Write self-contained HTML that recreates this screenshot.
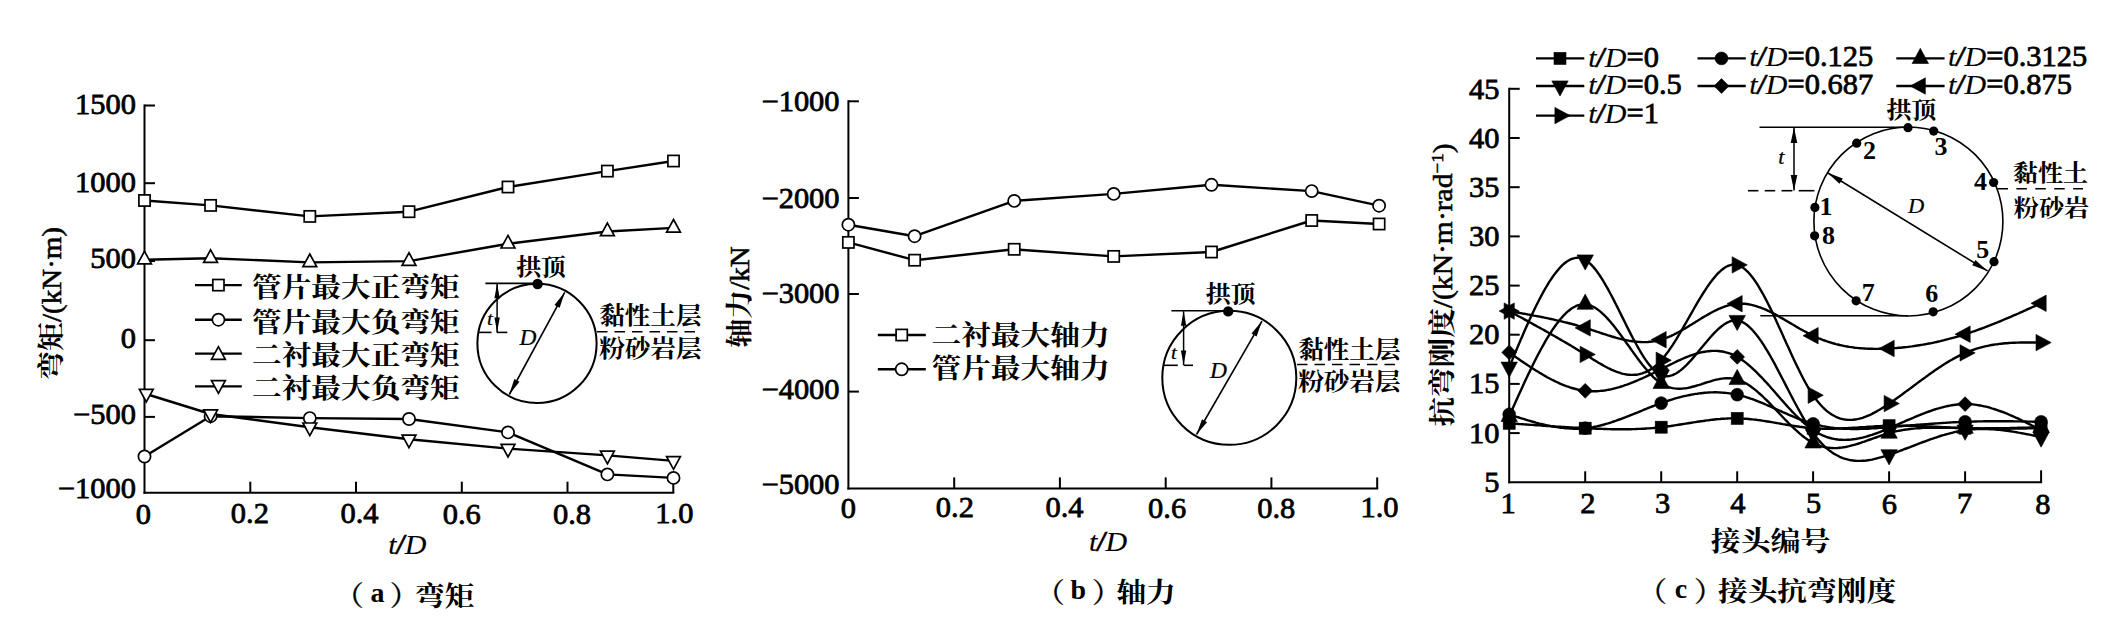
<!DOCTYPE html>
<html><head><meta charset="utf-8"><title>figure</title>
<style>
html,body{margin:0;padding:0;background:#fff;}
svg{display:block;}
text{font-family:"Liberation Serif","Noto Serif CJK SC",serif;fill:#000;}
</style></head><body>
<svg width="2124" height="620" viewBox="0 0 2124 620">
<rect width="2124" height="620" fill="#fff"/>
<line x1="144.5" y1="104.5" x2="144.5" y2="493.7" stroke="#000" stroke-width="2" />
<line x1="143.5" y1="492.7" x2="674.3" y2="492.7" stroke="#000" stroke-width="2" />
<line x1="144.5" y1="105.5" x2="155.0" y2="105.5" stroke="#000" stroke-width="2" />
<text id="a_y0" transform="translate(136.00,114.00) scale(1,0.94)" font-size="30.5" text-anchor="end" stroke="#000" stroke-width="0.8" >1500</text>
<line x1="144.5" y1="183.2" x2="155.0" y2="183.2" stroke="#000" stroke-width="2" />
<text id="a_y1" transform="translate(136.00,191.80) scale(1,0.94)" font-size="30.5" text-anchor="end" stroke="#000" stroke-width="0.8" >1000</text>
<line x1="144.5" y1="261.0" x2="155.0" y2="261.0" stroke="#000" stroke-width="2" />
<text id="a_y2" transform="translate(136.00,267.80) scale(1,0.94)" font-size="30.5" text-anchor="end" stroke="#000" stroke-width="0.8" >500</text>
<line x1="144.5" y1="340.2" x2="155.0" y2="340.2" stroke="#000" stroke-width="2" />
<text id="a_y3" transform="translate(136.00,347.60) scale(1,0.94)" font-size="30.5" text-anchor="end" stroke="#000" stroke-width="0.8" >0</text>
<line x1="144.5" y1="416.9" x2="155.0" y2="416.9" stroke="#000" stroke-width="2" />
<text id="a_y4" transform="translate(136.00,423.80) scale(1,0.94)" font-size="30.5" text-anchor="end" stroke="#000" stroke-width="0.8" >−500</text>
<text id="a_y5" transform="translate(136.00,498.20) scale(1,0.94)" font-size="30.5" text-anchor="end" stroke="#000" stroke-width="0.8" >−1000</text>
<text id="a_x0" transform="translate(143.40,524.40) scale(1,0.94)" font-size="30.5" text-anchor="middle" stroke="#000" stroke-width="0.8" >0</text>
<line x1="250.3" y1="492.7" x2="250.3" y2="481.7" stroke="#000" stroke-width="2" />
<text id="a_x1" transform="translate(249.90,523.40) scale(1,0.94)" font-size="30.5" text-anchor="middle" stroke="#000" stroke-width="0.8" >0.2</text>
<line x1="356.0" y1="492.7" x2="356.0" y2="481.7" stroke="#000" stroke-width="2" />
<text id="a_x2" transform="translate(359.50,523.40) scale(1,0.94)" font-size="30.5" text-anchor="middle" stroke="#000" stroke-width="0.8" >0.4</text>
<line x1="461.8" y1="492.7" x2="461.8" y2="481.7" stroke="#000" stroke-width="2" />
<text id="a_x3" transform="translate(461.80,524.40) scale(1,0.94)" font-size="30.5" text-anchor="middle" stroke="#000" stroke-width="0.8" >0.6</text>
<line x1="567.5" y1="492.7" x2="567.5" y2="481.7" stroke="#000" stroke-width="2" />
<text id="a_x4" transform="translate(572.00,524.40) scale(1,0.94)" font-size="30.5" text-anchor="middle" stroke="#000" stroke-width="0.8" >0.8</text>
<line x1="673.3" y1="492.7" x2="673.3" y2="481.7" stroke="#000" stroke-width="2" />
<text id="a_x5" transform="translate(674.40,523.40) scale(1,0.94)" font-size="30.5" text-anchor="middle" stroke="#000" stroke-width="0.8" >1.0</text>
<text id="a_xl" transform="translate(388.20,554.20) scale(1,0.94)" font-size="30" font-style="italic" stroke="#000" stroke-width="0.15">t<tspan font-family="Liberation Sans,sans-serif" font-size="27.9" stroke-width="0.5">/</tspan><tspan dx="0.5">D</tspan></text>
<text id="a_cap_lp" transform="translate(334.20,605.40) scale(1,0.94)" font-size="29.5" text-anchor="start" font-weight="500" stroke="#000" stroke-width="0.3" >（</text>
<text id="a_cap_lt" transform="translate(370.60,602.40) scale(1,0.94)" font-size="28" text-anchor="start" font-weight="bold" >a</text>
<text id="a_cap_rp" transform="translate(389.80,605.40) scale(1,0.94)" font-size="29.5" text-anchor="start" font-weight="500" stroke="#000" stroke-width="0.3" >）</text>
<text id="a_cap_cj" transform="translate(415.00,606.40) scale(1,0.92)" font-size="29.7" text-anchor="start" font-weight="700" >弯矩</text>
<text id="a_yl" transform="translate(60.5,303.5) rotate(-90) scale(1,0.93)" font-size="29" text-anchor="middle" stroke="#000" stroke-width="0.6"><tspan font-weight="700" stroke-width="0">弯矩</tspan>/(kN·m)</text>
<polyline points="144.5,200.5 210.6,205.4 309.8,216.4 409.0,211.7 508.0,187.0 607.4,171.1 673.5,161.0" fill="none" stroke="#000" stroke-width="2.4" stroke-linejoin="round"/>
<polyline points="144.5,259.7 210.6,258.2 309.8,262.4 409.0,261.1 508.0,243.8 607.4,231.5 673.5,227.9" fill="none" stroke="#000" stroke-width="2.4" stroke-linejoin="round"/>
<polyline points="144.5,456.5 210.6,416.2 309.8,418.1 409.0,419.0 508.0,432.4 607.4,474.4 673.5,477.9" fill="none" stroke="#000" stroke-width="2.4" stroke-linejoin="round"/>
<polyline points="144.5,393.5 210.6,414.0 309.8,427.2 409.0,439.3 508.0,448.6 607.4,455.4 673.5,460.9" fill="none" stroke="#000" stroke-width="2.4" stroke-linejoin="round"/>
<rect x="138.9" y="194.9" width="11.2" height="11.2" fill="#fff" stroke="#000" stroke-width="1.7"/>
<rect x="205.0" y="199.8" width="11.2" height="11.2" fill="#fff" stroke="#000" stroke-width="1.7"/>
<rect x="304.2" y="210.8" width="11.2" height="11.2" fill="#fff" stroke="#000" stroke-width="1.7"/>
<rect x="403.4" y="206.1" width="11.2" height="11.2" fill="#fff" stroke="#000" stroke-width="1.7"/>
<rect x="502.4" y="181.4" width="11.2" height="11.2" fill="#fff" stroke="#000" stroke-width="1.7"/>
<rect x="601.8" y="165.5" width="11.2" height="11.2" fill="#fff" stroke="#000" stroke-width="1.7"/>
<rect x="667.9" y="155.4" width="11.2" height="11.2" fill="#fff" stroke="#000" stroke-width="1.7"/>
<polygon points="144.5,251.3 151.4,263.9 137.6,263.9" fill="#fff" stroke="#000" stroke-width="1.7"/>
<polygon points="210.6,249.8 217.5,262.4 203.7,262.4" fill="#fff" stroke="#000" stroke-width="1.7"/>
<polygon points="309.8,254.0 316.7,266.6 302.9,266.6" fill="#fff" stroke="#000" stroke-width="1.7"/>
<polygon points="409.0,252.7 415.9,265.3 402.1,265.3" fill="#fff" stroke="#000" stroke-width="1.7"/>
<polygon points="508.0,235.4 514.9,248.0 501.1,248.0" fill="#fff" stroke="#000" stroke-width="1.7"/>
<polygon points="607.4,223.1 614.3,235.7 600.5,235.7" fill="#fff" stroke="#000" stroke-width="1.7"/>
<polygon points="673.5,219.5 680.4,232.1 666.6,232.1" fill="#fff" stroke="#000" stroke-width="1.7"/>
<circle cx="144.5" cy="456.5" r="6.1" fill="#fff" stroke="#000" stroke-width="1.7"/>
<circle cx="210.6" cy="416.2" r="6.1" fill="#fff" stroke="#000" stroke-width="1.7"/>
<circle cx="309.8" cy="418.1" r="6.1" fill="#fff" stroke="#000" stroke-width="1.7"/>
<circle cx="409.0" cy="419.0" r="6.1" fill="#fff" stroke="#000" stroke-width="1.7"/>
<circle cx="508.0" cy="432.4" r="6.1" fill="#fff" stroke="#000" stroke-width="1.7"/>
<circle cx="607.4" cy="474.4" r="6.1" fill="#fff" stroke="#000" stroke-width="1.7"/>
<circle cx="673.5" cy="477.9" r="6.1" fill="#fff" stroke="#000" stroke-width="1.7"/>
<polygon points="146.3,401.9 153.2,389.3 139.4,389.3" fill="#fff" stroke="#000" stroke-width="1.7"/>
<polygon points="210.6,422.4 217.5,409.8 203.7,409.8" fill="#fff" stroke="#000" stroke-width="1.7"/>
<polygon points="309.8,435.6 316.7,423.0 302.9,423.0" fill="#fff" stroke="#000" stroke-width="1.7"/>
<polygon points="409.0,447.7 415.9,435.1 402.1,435.1" fill="#fff" stroke="#000" stroke-width="1.7"/>
<polygon points="508.0,457.0 514.9,444.4 501.1,444.4" fill="#fff" stroke="#000" stroke-width="1.7"/>
<polygon points="607.4,463.8 614.3,451.2 600.5,451.2" fill="#fff" stroke="#000" stroke-width="1.7"/>
<polygon points="673.5,469.3 680.4,456.7 666.6,456.7" fill="#fff" stroke="#000" stroke-width="1.7"/>
<line x1="195.0" y1="285.1" x2="241.8" y2="285.1" stroke="#000" stroke-width="2.4" />
<rect x="212.8" y="279.5" width="11.2" height="11.2" fill="#fff" stroke="#000" stroke-width="1.7"/>
<text id="a_lg0" transform="translate(252.00,297.10) scale(1,0.92)" font-size="29.7" text-anchor="start" font-weight="700" >管片最大正弯矩</text>
<line x1="195.0" y1="319.7" x2="241.8" y2="319.7" stroke="#000" stroke-width="2.4" />
<circle cx="218.4" cy="319.7" r="6.1" fill="#fff" stroke="#000" stroke-width="1.7"/>
<text id="a_lg1" transform="translate(252.00,331.70) scale(1,0.92)" font-size="29.7" text-anchor="start" font-weight="700" >管片最大负弯矩</text>
<line x1="195.0" y1="353.6" x2="241.8" y2="353.6" stroke="#000" stroke-width="2.4" />
<polygon points="218.4,346.7 225.3,359.3 211.5,359.3" fill="#fff" stroke="#000" stroke-width="1.7"/>
<text id="a_lg2" transform="translate(252.00,365.10) scale(1,0.92)" font-size="29.7" text-anchor="start" font-weight="700" >二衬最大正弯矩</text>
<line x1="195.0" y1="386.4" x2="241.8" y2="386.4" stroke="#000" stroke-width="2.4" />
<polygon points="218.4,393.3 225.3,380.7 211.5,380.7" fill="#fff" stroke="#000" stroke-width="1.7"/>
<text id="a_lg3" transform="translate(252.00,397.90) scale(1,0.92)" font-size="29.7" text-anchor="start" font-weight="700" >二衬最大负弯矩</text>
<circle cx="537" cy="343.4" r="59.6" fill="none" stroke="#000" stroke-width="2"/>
<line x1="485.4" y1="283.4" x2="537.6" y2="283.4" stroke="#000" stroke-width="1.6" />
<circle cx="537.6" cy="284" r="5.2" fill="#000"/>
<line x1="497.1" y1="283.8" x2="497.1" y2="332.1" stroke="#000" stroke-width="1.5" />
<polygon points="497.1,283.8 499.8,298.3 494.4,298.3" fill="#000"/>
<polygon points="497.1,332.1 494.4,317.6 499.8,317.6" fill="#000"/>
<line x1="478.5" y1="332.4" x2="491.5" y2="332.4" stroke="#000" stroke-width="1.6" />
<line x1="496.6" y1="332.4" x2="507.3" y2="332.4" stroke="#000" stroke-width="1.6" />
<line x1="564.7" y1="292.3" x2="509.3" y2="394.5" stroke="#000" stroke-width="1.6" />
<polygon points="564.7,292.3 559.7,307.8 554.5,305.0" fill="#000"/>
<polygon points="509.3,394.5 514.3,379.0 519.5,381.8" fill="#000"/>
<text id="a_in_D" transform="translate(528.10,344.70) scale(1,0.94)" font-size="23.5" text-anchor="middle" font-style="italic" stroke="#000" stroke-width="0.25" >D</text>
<text id="a_in_t" transform="translate(489.80,325.20) scale(1,0.94)" font-size="21" text-anchor="middle" font-style="italic" stroke="#000" stroke-width="0.25" >t</text>
<text id="a_in_gd" transform="translate(516.20,274.60) scale(1,0.92)" font-size="24.9" text-anchor="start" font-weight="700" >拱顶</text>
<line x1="597.0" y1="331.8" x2="701.0" y2="331.8" stroke="#000" stroke-width="1.6" stroke-dasharray="10.5 7"/>
<text id="a_in_s1" transform="translate(599.20,324.00) scale(1,0.92)" font-size="25.6" text-anchor="start" font-weight="700" >黏性土层</text>
<text id="a_in_s2" transform="translate(599.20,356.80) scale(1,0.92)" font-size="25.6" text-anchor="start" font-weight="700" >粉砂岩层</text>
<line x1="848.4" y1="100.3" x2="848.4" y2="489.4" stroke="#000" stroke-width="2" />
<line x1="847.4" y1="488.4" x2="1378.2" y2="488.4" stroke="#000" stroke-width="2" />
<line x1="848.4" y1="101.3" x2="858.9" y2="101.3" stroke="#000" stroke-width="2" />
<text id="b_y0" transform="translate(839.60,111.40) scale(1,0.94)" font-size="30.5" text-anchor="end" stroke="#000" stroke-width="0.8" >−1000</text>
<line x1="848.4" y1="198.0" x2="858.9" y2="198.0" stroke="#000" stroke-width="2" />
<text id="b_y1" transform="translate(839.60,207.70) scale(1,0.94)" font-size="30.5" text-anchor="end" stroke="#000" stroke-width="0.8" >−2000</text>
<line x1="848.4" y1="294.0" x2="858.9" y2="294.0" stroke="#000" stroke-width="2" />
<text id="b_y2" transform="translate(839.60,302.90) scale(1,0.94)" font-size="30.5" text-anchor="end" stroke="#000" stroke-width="0.8" >−3000</text>
<line x1="848.4" y1="391.6" x2="858.9" y2="391.6" stroke="#000" stroke-width="2" />
<text id="b_y3" transform="translate(839.60,398.90) scale(1,0.94)" font-size="30.5" text-anchor="end" stroke="#000" stroke-width="0.8" >−4000</text>
<text id="b_y4" transform="translate(839.60,494.20) scale(1,0.94)" font-size="30.5" text-anchor="end" stroke="#000" stroke-width="0.8" >−5000</text>
<text id="b_x0" transform="translate(848.40,517.80) scale(1,0.94)" font-size="30.5" text-anchor="middle" stroke="#000" stroke-width="0.8" >0</text>
<line x1="954.2" y1="488.4" x2="954.2" y2="477.4" stroke="#000" stroke-width="2" />
<text id="b_x1" transform="translate(954.90,516.80) scale(1,0.94)" font-size="30.5" text-anchor="middle" stroke="#000" stroke-width="0.8" >0.2</text>
<line x1="1059.9" y1="488.4" x2="1059.9" y2="477.4" stroke="#000" stroke-width="2" />
<text id="b_x2" transform="translate(1064.50,516.80) scale(1,0.94)" font-size="30.5" text-anchor="middle" stroke="#000" stroke-width="0.8" >0.4</text>
<line x1="1165.7" y1="488.4" x2="1165.7" y2="477.4" stroke="#000" stroke-width="2" />
<text id="b_x3" transform="translate(1167.10,517.80) scale(1,0.94)" font-size="30.5" text-anchor="middle" stroke="#000" stroke-width="0.8" >0.6</text>
<line x1="1271.4" y1="488.4" x2="1271.4" y2="477.4" stroke="#000" stroke-width="2" />
<text id="b_x4" transform="translate(1276.20,517.80) scale(1,0.94)" font-size="30.5" text-anchor="middle" stroke="#000" stroke-width="0.8" >0.8</text>
<line x1="1377.2" y1="488.4" x2="1377.2" y2="477.4" stroke="#000" stroke-width="2" />
<text id="b_x5" transform="translate(1379.50,516.80) scale(1,0.94)" font-size="30.5" text-anchor="middle" stroke="#000" stroke-width="0.8" >1.0</text>
<text id="b_xl" transform="translate(1089.00,550.80) scale(1,0.94)" font-size="30" font-style="italic" stroke="#000" stroke-width="0.15">t<tspan font-family="Liberation Sans,sans-serif" font-size="27.9" stroke-width="0.5">/</tspan><tspan dx="0.5">D</tspan></text>
<text id="b_cap_lp" transform="translate(1035.20,601.90) scale(1,0.94)" font-size="29.5" text-anchor="start" font-weight="500" stroke="#000" stroke-width="0.3" >（</text>
<text id="b_cap_lt" transform="translate(1070.60,599.40) scale(1,0.94)" font-size="28" text-anchor="start" font-weight="bold" >b</text>
<text id="b_cap_rp" transform="translate(1092.00,601.90) scale(1,0.94)" font-size="29.5" text-anchor="start" font-weight="500" stroke="#000" stroke-width="0.3" >）</text>
<text id="b_cap_cj" transform="translate(1116.40,601.90) scale(1,0.92)" font-size="29.7" text-anchor="start" font-weight="700" >轴力</text>
<text id="b_yl" transform="translate(749.0,297.0) rotate(-90) scale(1,0.93)" font-size="29" text-anchor="middle" stroke="#000" stroke-width="0.6"><tspan font-weight="700" stroke-width="0">轴力</tspan>/kN</text>
<polyline points="848.4,224.7 914.6,236.2 1014.2,200.9 1113.7,193.9 1211.5,184.8 1311.7,191.1 1379.1,205.7" fill="none" stroke="#000" stroke-width="2.4" stroke-linejoin="round"/>
<polyline points="848.4,242.4 914.6,260.2 1014.2,249.3 1113.7,256.4 1211.5,252.0 1311.7,220.5 1379.1,224.0" fill="none" stroke="#000" stroke-width="2.4" stroke-linejoin="round"/>
<circle cx="848.4" cy="224.7" r="6.1" fill="#fff" stroke="#000" stroke-width="1.7"/>
<circle cx="914.6" cy="236.2" r="6.1" fill="#fff" stroke="#000" stroke-width="1.7"/>
<circle cx="1014.2" cy="200.9" r="6.1" fill="#fff" stroke="#000" stroke-width="1.7"/>
<circle cx="1113.7" cy="193.9" r="6.1" fill="#fff" stroke="#000" stroke-width="1.7"/>
<circle cx="1211.5" cy="184.8" r="6.1" fill="#fff" stroke="#000" stroke-width="1.7"/>
<circle cx="1311.7" cy="191.1" r="6.1" fill="#fff" stroke="#000" stroke-width="1.7"/>
<circle cx="1379.1" cy="205.7" r="6.1" fill="#fff" stroke="#000" stroke-width="1.7"/>
<rect x="842.8" y="236.8" width="11.2" height="11.2" fill="#fff" stroke="#000" stroke-width="1.7"/>
<rect x="909.0" y="254.6" width="11.2" height="11.2" fill="#fff" stroke="#000" stroke-width="1.7"/>
<rect x="1008.6" y="243.7" width="11.2" height="11.2" fill="#fff" stroke="#000" stroke-width="1.7"/>
<rect x="1108.1" y="250.8" width="11.2" height="11.2" fill="#fff" stroke="#000" stroke-width="1.7"/>
<rect x="1205.9" y="246.4" width="11.2" height="11.2" fill="#fff" stroke="#000" stroke-width="1.7"/>
<rect x="1306.1" y="214.9" width="11.2" height="11.2" fill="#fff" stroke="#000" stroke-width="1.7"/>
<rect x="1373.5" y="218.4" width="11.2" height="11.2" fill="#fff" stroke="#000" stroke-width="1.7"/>
<line x1="877.8" y1="335.0" x2="925.8" y2="335.0" stroke="#000" stroke-width="2.4" />
<rect x="896.1" y="329.4" width="11.2" height="11.2" fill="#fff" stroke="#000" stroke-width="1.7"/>
<text id="b_lg0" transform="translate(931.50,344.50) scale(1,0.92)" font-size="29.7" text-anchor="start" font-weight="700" >二衬最大轴力</text>
<line x1="877.8" y1="369.3" x2="925.8" y2="369.3" stroke="#000" stroke-width="2.4" />
<circle cx="901.7" cy="369.3" r="6.1" fill="#fff" stroke="#000" stroke-width="1.7"/>
<text id="b_lg1" transform="translate(931.50,378.30) scale(1,0.92)" font-size="29.7" text-anchor="start" font-weight="700" >管片最大轴力</text>
<circle cx="1229.3" cy="377.8" r="67" fill="none" stroke="#000" stroke-width="2"/>
<line x1="1171.4" y1="310.8" x2="1228.2" y2="310.8" stroke="#000" stroke-width="1.6" />
<circle cx="1228.2" cy="311.4" r="5.2" fill="#000"/>
<line x1="1183.6" y1="311.2" x2="1183.6" y2="365.0" stroke="#000" stroke-width="1.5" />
<polygon points="1183.6,311.2 1186.3,325.7 1180.9,325.7" fill="#000"/>
<polygon points="1183.6,365.0 1180.9,350.5 1186.3,350.5" fill="#000"/>
<line x1="1163.0" y1="365.3" x2="1177.8" y2="365.3" stroke="#000" stroke-width="1.6" />
<line x1="1183.6" y1="365.3" x2="1193.0" y2="365.3" stroke="#000" stroke-width="1.6" />
<line x1="1262.0" y1="321.1" x2="1196.5" y2="434.5" stroke="#000" stroke-width="1.6" />
<polygon points="1262.0,321.1 1256.6,336.4 1251.5,333.4" fill="#000"/>
<polygon points="1196.5,434.5 1202.0,419.2 1207.1,422.2" fill="#000"/>
<text id="b_in_D" transform="translate(1218.40,377.70) scale(1,0.94)" font-size="23.5" text-anchor="middle" font-style="italic" stroke="#000" stroke-width="0.25" >D</text>
<text id="b_in_t" transform="translate(1173.80,359.20) scale(1,0.94)" font-size="21" text-anchor="middle" font-style="italic" stroke="#000" stroke-width="0.25" >t</text>
<text id="b_in_gd" transform="translate(1205.80,301.80) scale(1,0.92)" font-size="24.9" text-anchor="start" font-weight="700" >拱顶</text>
<line x1="1297.0" y1="364.5" x2="1400.0" y2="364.5" stroke="#000" stroke-width="1.6" stroke-dasharray="10.5 7"/>
<text id="b_in_s1" transform="translate(1298.20,357.60) scale(1,0.92)" font-size="25.6" text-anchor="start" font-weight="700" >黏性土层</text>
<text id="b_in_s2" transform="translate(1298.20,390.40) scale(1,0.92)" font-size="25.6" text-anchor="start" font-weight="700" >粉砂岩层</text>
<line x1="1509.2" y1="87.8" x2="1509.2" y2="483.3" stroke="#000" stroke-width="2" />
<line x1="1508.2" y1="482.3" x2="2042.1" y2="482.3" stroke="#000" stroke-width="2" />
<line x1="1509.2" y1="88.8" x2="1519.7" y2="88.8" stroke="#000" stroke-width="2" />
<text id="c_y0" transform="translate(1499.60,99.20) scale(1,0.94)" font-size="30.5" text-anchor="end" stroke="#000" stroke-width="0.8" >45</text>
<line x1="1509.2" y1="138.0" x2="1519.7" y2="138.0" stroke="#000" stroke-width="2" />
<text id="c_y1" transform="translate(1499.60,148.24) scale(1,0.94)" font-size="30.5" text-anchor="end" stroke="#000" stroke-width="0.8" >40</text>
<line x1="1509.2" y1="187.2" x2="1519.7" y2="187.2" stroke="#000" stroke-width="2" />
<text id="c_y2" transform="translate(1499.60,197.47) scale(1,0.94)" font-size="30.5" text-anchor="end" stroke="#000" stroke-width="0.8" >35</text>
<line x1="1509.2" y1="236.4" x2="1519.7" y2="236.4" stroke="#000" stroke-width="2" />
<text id="c_y3" transform="translate(1499.60,246.36) scale(1,0.94)" font-size="30.5" text-anchor="end" stroke="#000" stroke-width="0.8" >30</text>
<line x1="1509.2" y1="285.6" x2="1519.7" y2="285.6" stroke="#000" stroke-width="2" />
<text id="c_y4" transform="translate(1499.60,295.40) scale(1,0.94)" font-size="30.5" text-anchor="end" stroke="#000" stroke-width="0.8" >25</text>
<line x1="1509.2" y1="334.7" x2="1519.7" y2="334.7" stroke="#000" stroke-width="2" />
<text id="c_y5" transform="translate(1499.60,344.44) scale(1,0.94)" font-size="30.5" text-anchor="end" stroke="#000" stroke-width="0.8" >20</text>
<line x1="1509.2" y1="383.9" x2="1519.7" y2="383.9" stroke="#000" stroke-width="2" />
<text id="c_y6" transform="translate(1499.60,393.38) scale(1,0.94)" font-size="30.5" text-anchor="end" stroke="#000" stroke-width="0.8" >15</text>
<line x1="1509.2" y1="433.1" x2="1519.7" y2="433.1" stroke="#000" stroke-width="2" />
<text id="c_y7" transform="translate(1499.60,443.36) scale(1,0.94)" font-size="30.5" text-anchor="end" stroke="#000" stroke-width="0.8" >10</text>
<text id="c_y8" transform="translate(1499.60,491.80) scale(1,0.94)" font-size="30.5" text-anchor="end" stroke="#000" stroke-width="0.8" >5</text>
<text id="c_x0" transform="translate(1508.20,513.20) scale(1,0.94)" font-size="30.5" text-anchor="middle" stroke="#000" stroke-width="0.8" >1</text>
<line x1="1585.2" y1="482.3" x2="1585.2" y2="471.3" stroke="#000" stroke-width="2" />
<text id="c_x1" transform="translate(1587.80,513.20) scale(1,0.94)" font-size="30.5" text-anchor="middle" stroke="#000" stroke-width="0.8" >2</text>
<line x1="1661.2" y1="482.3" x2="1661.2" y2="471.3" stroke="#000" stroke-width="2" />
<text id="c_x2" transform="translate(1662.50,513.20) scale(1,0.94)" font-size="30.5" text-anchor="middle" stroke="#000" stroke-width="0.8" >3</text>
<line x1="1737.2" y1="482.3" x2="1737.2" y2="471.3" stroke="#000" stroke-width="2" />
<text id="c_x3" transform="translate(1737.90,513.20) scale(1,0.94)" font-size="30.5" text-anchor="middle" stroke="#000" stroke-width="0.8" >4</text>
<line x1="1813.1" y1="482.3" x2="1813.1" y2="471.3" stroke="#000" stroke-width="2" />
<text id="c_x4" transform="translate(1813.50,513.20) scale(1,0.94)" font-size="30.5" text-anchor="middle" stroke="#000" stroke-width="0.8" >5</text>
<line x1="1889.1" y1="482.3" x2="1889.1" y2="471.3" stroke="#000" stroke-width="2" />
<text id="c_x5" transform="translate(1889.40,514.20) scale(1,0.94)" font-size="30.5" text-anchor="middle" stroke="#000" stroke-width="0.8" >6</text>
<line x1="1965.1" y1="482.3" x2="1965.1" y2="471.3" stroke="#000" stroke-width="2" />
<text id="c_x6" transform="translate(1964.50,513.20) scale(1,0.94)" font-size="30.5" text-anchor="middle" stroke="#000" stroke-width="0.8" >7</text>
<line x1="2041.1" y1="482.3" x2="2041.1" y2="470.3" stroke="#000" stroke-width="2" />
<text id="c_x7" transform="translate(2042.80,514.20) scale(1,0.94)" font-size="30.5" text-anchor="middle" stroke="#000" stroke-width="0.8" >8</text>
<text id="c_xl" transform="translate(1710.80,550.50) scale(1,0.92)" font-size="29.9" text-anchor="start" font-weight="700" >接头编号</text>
<text id="c_cap_lp" transform="translate(1637.40,600.90) scale(1,0.94)" font-size="29.5" text-anchor="start" font-weight="500" stroke="#000" stroke-width="0.3" >（</text>
<text id="c_cap_lt" transform="translate(1674.80,598.40) scale(1,0.94)" font-size="28" text-anchor="start" font-weight="bold" >c</text>
<text id="c_cap_rp" transform="translate(1694.00,600.90) scale(1,0.94)" font-size="29.5" text-anchor="start" font-weight="500" stroke="#000" stroke-width="0.3" >）</text>
<text id="c_cap_cj" transform="translate(1718.00,600.90) scale(1,0.92)" font-size="29.7" text-anchor="start" font-weight="700" >接头抗弯刚度</text>
<text id="c_yl" transform="translate(1452.0,285.0) rotate(-90) scale(1,0.93)" font-size="29.6" text-anchor="middle" stroke="#000" stroke-width="0.6"><tspan font-weight="700" stroke-width="0">抗弯刚度</tspan>/(kN·m·rad<tspan font-size="19" dy="-10">−1</tspan><tspan dy="10">)</tspan></text>
<circle cx="1908.4" cy="221.5" r="94.5" fill="none" stroke="#000" stroke-width="1.6"/>
<line x1="1759.5" y1="127.2" x2="1908.0" y2="127.2" stroke="#000" stroke-width="1.6" />
<line x1="1760.3" y1="315.8" x2="1908.0" y2="315.8" stroke="#000" stroke-width="1.6" />
<line x1="1748.0" y1="190.7" x2="1758.4" y2="190.7" stroke="#000" stroke-width="1.6" />
<line x1="1764.7" y1="190.7" x2="1775.2" y2="190.7" stroke="#000" stroke-width="1.6" />
<line x1="1781.5" y1="190.7" x2="1792.4" y2="190.7" stroke="#000" stroke-width="1.6" />
<line x1="1798.7" y1="190.7" x2="1814.4" y2="190.7" stroke="#000" stroke-width="1.6" />
<line x1="1794.0" y1="127.6" x2="1794.0" y2="190.4" stroke="#000" stroke-width="1.5" />
<polygon points="1794.0,127.6 1797.3,143.1 1790.7,143.1" fill="#000"/>
<polygon points="1794.0,190.4 1790.7,174.9 1797.3,174.9" fill="#000"/>
<text id="c_in_t" transform="translate(1781.40,164.00) scale(1,0.94)" font-size="22" text-anchor="middle" font-style="italic" stroke="#000" stroke-width="0.25" >t</text>
<circle cx="1908" cy="127.7" r="4.6" fill="#000"/>
<circle cx="1933.7" cy="131.1" r="4.6" fill="#000"/>
<circle cx="1856.7" cy="143.2" r="4.6" fill="#000"/>
<circle cx="1993.6" cy="182.5" r="4.6" fill="#000"/>
<circle cx="1814.9" cy="207.4" r="4.6" fill="#000"/>
<circle cx="1814.6" cy="235.8" r="4.6" fill="#000"/>
<circle cx="1994" cy="261.7" r="4.6" fill="#000"/>
<circle cx="1856.1" cy="300.8" r="4.6" fill="#000"/>
<circle cx="1933.2" cy="311.8" r="4.6" fill="#000"/>
<text id="c_n2" transform="translate(1869.40,158.80) scale(1,0.94)" font-size="26" text-anchor="middle" font-weight="bold" >2</text>
<text id="c_n3" transform="translate(1941.00,155.20) scale(1,0.94)" font-size="26" text-anchor="middle" font-weight="bold" >3</text>
<text id="c_n4" transform="translate(1980.60,190.20) scale(1,0.94)" font-size="26" text-anchor="middle" font-weight="bold" >4</text>
<text id="c_n1" transform="translate(1826.00,214.80) scale(1,0.94)" font-size="26" text-anchor="middle" font-weight="bold" >1</text>
<text id="c_n8" transform="translate(1828.50,243.60) scale(1,0.94)" font-size="26" text-anchor="middle" font-weight="bold" >8</text>
<text id="c_n5" transform="translate(1982.70,258.20) scale(1,0.94)" font-size="26" text-anchor="middle" font-weight="bold" >5</text>
<text id="c_n7" transform="translate(1868.20,300.80) scale(1,0.94)" font-size="26" text-anchor="middle" font-weight="bold" >7</text>
<text id="c_n6" transform="translate(1931.80,302.20) scale(1,0.94)" font-size="26" text-anchor="middle" font-weight="bold" >6</text>
<line x1="1827.5" y1="172.8" x2="1987.5" y2="270.9" stroke="#000" stroke-width="1.6" />
<polygon points="1827.5,172.8 1842.8,178.5 1839.5,183.8" fill="#000"/>
<polygon points="1987.5,270.9 1972.2,265.2 1975.5,259.9" fill="#000"/>
<text id="c_in_D" transform="translate(1916.10,213.20) scale(1,0.94)" font-size="22.5" text-anchor="middle" font-style="italic" stroke="#000" stroke-width="0.25" >D</text>
<text id="c_in_gd" transform="translate(1886.60,118.00) scale(1,0.92)" font-size="24.9" text-anchor="start" font-weight="700" >拱顶</text>
<line x1="1997.5" y1="188.8" x2="2083.0" y2="188.8" stroke="#000" stroke-width="1.6" stroke-dasharray="10.5 8.4"/>
<text id="c_in_s1" transform="translate(2012.80,181.00) scale(1,0.92)" font-size="25.1" text-anchor="start" font-weight="700" >黏性土</text>
<text id="c_in_s2" transform="translate(2013.80,216.00) scale(1,0.92)" font-size="25.1" text-anchor="start" font-weight="700" >粉砂岩</text>
<polyline points="1509.2,423.3 1511.1,423.4 1513.0,423.6 1514.9,423.7 1516.8,423.8 1518.7,424.0 1520.6,424.1 1522.5,424.2 1524.4,424.4 1526.3,424.5 1528.2,424.6 1530.1,424.8 1532.0,424.9 1533.9,425.0 1535.8,425.2 1537.7,425.3 1539.6,425.4 1541.5,425.6 1543.4,425.7 1545.3,425.8 1547.2,426.0 1549.1,426.1 1551.0,426.2 1552.9,426.3 1554.8,426.5 1556.7,426.6 1558.6,426.7 1560.5,426.8 1562.4,426.9 1564.3,427.0 1566.2,427.2 1568.1,427.3 1570.0,427.4 1571.9,427.5 1573.8,427.6 1575.7,427.7 1577.6,427.8 1579.5,427.9 1581.4,428.0 1583.3,428.1 1585.2,428.2 1587.1,428.3 1589.0,428.4 1590.9,428.5 1592.8,428.5 1594.7,428.6 1596.6,428.7 1598.5,428.8 1600.4,428.8 1602.3,428.9 1604.2,429.0 1606.1,429.0 1608.0,429.1 1609.9,429.1 1611.8,429.2 1613.7,429.2 1615.6,429.2 1617.5,429.2 1619.4,429.3 1621.3,429.3 1623.2,429.3 1625.1,429.2 1627.0,429.2 1628.9,429.2 1630.8,429.2 1632.7,429.1 1634.6,429.1 1636.5,429.0 1638.4,428.9 1640.3,428.9 1642.2,428.8 1644.1,428.7 1646.0,428.5 1647.9,428.4 1649.8,428.3 1651.7,428.1 1653.6,428.0 1655.5,427.8 1657.4,427.6 1659.3,427.4 1661.2,427.2 1663.1,427.0 1665.0,426.8 1666.9,426.5 1668.8,426.2 1670.7,426.0 1672.6,425.7 1674.5,425.4 1676.4,425.1 1678.3,424.8 1680.2,424.5 1682.1,424.2 1684.0,423.9 1685.9,423.6 1687.8,423.3 1689.7,423.0 1691.6,422.7 1693.5,422.4 1695.4,422.1 1697.3,421.8 1699.2,421.5 1701.1,421.2 1703.0,421.0 1704.9,420.7 1706.8,420.4 1708.7,420.2 1710.6,419.9 1712.5,419.7 1714.4,419.5 1716.3,419.3 1718.2,419.1 1720.1,419.0 1722.0,418.8 1723.9,418.7 1725.8,418.6 1727.7,418.5 1729.6,418.4 1731.5,418.4 1733.4,418.3 1735.3,418.3 1737.2,418.4 1739.1,418.4 1741.0,418.5 1742.9,418.6 1744.8,418.7 1746.7,418.8 1748.6,419.0 1750.5,419.2 1752.4,419.4 1754.3,419.6 1756.2,419.8 1758.1,420.1 1760.0,420.3 1761.9,420.6 1763.8,420.9 1765.7,421.2 1767.6,421.5 1769.5,421.8 1771.4,422.1 1773.3,422.4 1775.2,422.8 1777.0,423.1 1778.9,423.4 1780.8,423.7 1782.7,424.1 1784.6,424.4 1786.5,424.7 1788.4,425.0 1790.3,425.3 1792.2,425.6 1794.1,425.9 1796.0,426.2 1797.9,426.5 1799.8,426.8 1801.7,427.0 1803.6,427.2 1805.5,427.5 1807.4,427.7 1809.3,427.9 1811.2,428.0 1813.1,428.2 1815.0,428.3 1816.9,428.4 1818.8,428.5 1820.7,428.6 1822.6,428.7 1824.5,428.7 1826.4,428.7 1828.3,428.7 1830.2,428.7 1832.1,428.7 1834.0,428.7 1835.9,428.6 1837.8,428.6 1839.7,428.5 1841.6,428.4 1843.5,428.3 1845.4,428.3 1847.3,428.2 1849.2,428.0 1851.1,427.9 1853.0,427.8 1854.9,427.7 1856.8,427.6 1858.7,427.4 1860.6,427.3 1862.5,427.2 1864.4,427.1 1866.3,426.9 1868.2,426.8 1870.1,426.7 1872.0,426.6 1873.9,426.4 1875.8,426.3 1877.7,426.2 1879.6,426.1 1881.5,426.0 1883.4,425.9 1885.3,425.9 1887.2,425.8 1889.1,425.7 1891.0,425.7 1892.9,425.7 1894.8,425.6 1896.7,425.6 1898.6,425.6 1900.5,425.6 1902.4,425.6 1904.3,425.6 1906.2,425.7 1908.1,425.7 1910.0,425.7 1911.9,425.8 1913.8,425.8 1915.7,425.9 1917.6,426.0 1919.5,426.0 1921.4,426.1 1923.3,426.2 1925.2,426.3 1927.1,426.4 1929.0,426.5 1930.9,426.5 1932.8,426.6 1934.7,426.7 1936.6,426.8 1938.5,426.9 1940.4,427.0 1942.3,427.1 1944.2,427.2 1946.1,427.3 1948.0,427.4 1949.9,427.5 1951.8,427.6 1953.7,427.7 1955.6,427.8 1957.5,427.9 1959.4,428.0 1961.3,428.0 1963.2,428.1 1965.1,428.2 1967.0,428.3 1968.9,428.3 1970.8,428.4 1972.7,428.4 1974.6,428.5 1976.5,428.5 1978.4,428.6 1980.3,428.6 1982.2,428.6 1984.1,428.6 1986.0,428.7 1987.9,428.7 1989.8,428.7 1991.7,428.7 1993.6,428.7 1995.5,428.7 1997.4,428.7 1999.3,428.7 2001.2,428.7 2003.1,428.7 2005.0,428.7 2006.9,428.7 2008.8,428.7 2010.7,428.6 2012.6,428.6 2014.5,428.6 2016.4,428.6 2018.3,428.6 2020.2,428.5 2022.1,428.5 2024.0,428.5 2025.9,428.5 2027.8,428.4 2029.7,428.4 2031.6,428.4 2033.5,428.3 2035.4,428.3 2037.3,428.3 2039.2,428.2 2041.1,428.2" fill="none" stroke="#000" stroke-width="2.4" stroke-linejoin="round"/>
<polyline points="1509.2,414.4 1511.1,415.0 1513.0,415.6 1514.9,416.3 1516.8,416.9 1518.7,417.5 1520.6,418.1 1522.5,418.7 1524.4,419.2 1526.3,419.8 1528.2,420.4 1530.1,420.9 1532.0,421.5 1533.9,422.0 1535.8,422.6 1537.7,423.1 1539.6,423.6 1541.5,424.0 1543.4,424.5 1545.3,424.9 1547.2,425.3 1549.1,425.7 1551.0,426.1 1552.9,426.5 1554.8,426.8 1556.7,427.1 1558.6,427.4 1560.5,427.7 1562.4,427.9 1564.3,428.1 1566.2,428.3 1568.1,428.4 1570.0,428.5 1571.9,428.6 1573.8,428.7 1575.7,428.7 1577.6,428.7 1579.5,428.6 1581.4,428.5 1583.3,428.4 1585.2,428.2 1587.1,428.0 1589.0,427.7 1590.9,427.4 1592.8,427.1 1594.7,426.7 1596.6,426.4 1598.5,425.9 1600.4,425.5 1602.3,425.0 1604.2,424.5 1606.1,423.9 1608.0,423.4 1609.9,422.8 1611.8,422.2 1613.7,421.5 1615.6,420.9 1617.5,420.2 1619.4,419.5 1621.3,418.8 1623.2,418.1 1625.1,417.4 1627.0,416.6 1628.9,415.9 1630.8,415.1 1632.7,414.4 1634.6,413.6 1636.5,412.8 1638.4,412.1 1640.3,411.3 1642.2,410.5 1644.1,409.7 1646.0,409.0 1647.9,408.2 1649.8,407.4 1651.7,406.7 1653.6,406.0 1655.5,405.2 1657.4,404.5 1659.3,403.8 1661.2,403.1 1663.1,402.4 1665.0,401.8 1666.9,401.1 1668.8,400.5 1670.7,399.9 1672.6,399.3 1674.5,398.7 1676.4,398.2 1678.3,397.7 1680.2,397.2 1682.1,396.7 1684.0,396.2 1685.9,395.8 1687.8,395.4 1689.7,395.0 1691.6,394.6 1693.5,394.3 1695.4,393.9 1697.3,393.7 1699.2,393.4 1701.1,393.2 1703.0,393.0 1704.9,392.8 1706.8,392.6 1708.7,392.5 1710.6,392.4 1712.5,392.4 1714.4,392.3 1716.3,392.3 1718.2,392.4 1720.1,392.5 1722.0,392.6 1723.9,392.7 1725.8,392.9 1727.7,393.1 1729.6,393.4 1731.5,393.7 1733.4,394.0 1735.3,394.3 1737.2,394.7 1739.1,395.2 1741.0,395.7 1742.9,396.2 1744.8,396.7 1746.7,397.3 1748.6,397.9 1750.5,398.6 1752.4,399.2 1754.3,399.9 1756.2,400.6 1758.1,401.4 1760.0,402.1 1761.9,402.9 1763.8,403.7 1765.7,404.5 1767.6,405.3 1769.5,406.1 1771.4,407.0 1773.3,407.8 1775.2,408.7 1777.0,409.5 1778.9,410.4 1780.8,411.2 1782.7,412.1 1784.6,412.9 1786.5,413.7 1788.4,414.6 1790.3,415.4 1792.2,416.2 1794.1,417.0 1796.0,417.8 1797.9,418.5 1799.8,419.3 1801.7,420.0 1803.6,420.7 1805.5,421.4 1807.4,422.0 1809.3,422.6 1811.2,423.2 1813.1,423.8 1815.0,424.3 1816.9,424.8 1818.8,425.2 1820.7,425.7 1822.6,426.1 1824.5,426.4 1826.4,426.8 1828.3,427.1 1830.2,427.4 1832.1,427.6 1834.0,427.9 1835.9,428.1 1837.8,428.3 1839.7,428.4 1841.6,428.6 1843.5,428.7 1845.4,428.8 1847.3,428.9 1849.2,428.9 1851.1,429.0 1853.0,429.0 1854.9,429.0 1856.8,429.0 1858.7,429.0 1860.6,428.9 1862.5,428.9 1864.4,428.8 1866.3,428.7 1868.2,428.7 1870.1,428.6 1872.0,428.4 1873.9,428.3 1875.8,428.2 1877.7,428.1 1879.6,427.9 1881.5,427.8 1883.4,427.7 1885.3,427.5 1887.2,427.4 1889.1,427.2 1891.0,427.1 1892.9,426.9 1894.8,426.7 1896.7,426.6 1898.6,426.4 1900.5,426.3 1902.4,426.1 1904.3,425.9 1906.2,425.8 1908.1,425.6 1910.0,425.5 1911.9,425.3 1913.8,425.2 1915.7,425.0 1917.6,424.8 1919.5,424.7 1921.4,424.5 1923.3,424.4 1925.2,424.2 1927.1,424.1 1929.0,423.9 1930.9,423.8 1932.8,423.7 1934.7,423.5 1936.6,423.4 1938.5,423.3 1940.4,423.1 1942.3,423.0 1944.2,422.9 1946.1,422.8 1948.0,422.6 1949.9,422.5 1951.8,422.4 1953.7,422.3 1955.6,422.2 1957.5,422.1 1959.4,422.0 1961.3,422.0 1963.2,421.9 1965.1,421.8 1967.0,421.7 1968.9,421.7 1970.8,421.6 1972.7,421.6 1974.6,421.5 1976.5,421.5 1978.4,421.4 1980.3,421.4 1982.2,421.4 1984.1,421.3 1986.0,421.3 1987.9,421.3 1989.8,421.3 1991.7,421.3 1993.6,421.3 1995.5,421.2 1997.4,421.2 1999.3,421.2 2001.2,421.3 2003.1,421.3 2005.0,421.3 2006.9,421.3 2008.8,421.3 2010.7,421.3 2012.6,421.3 2014.5,421.4 2016.4,421.4 2018.3,421.4 2020.2,421.4 2022.1,421.5 2024.0,421.5 2025.9,421.5 2027.8,421.6 2029.7,421.6 2031.6,421.6 2033.5,421.7 2035.4,421.7 2037.3,421.7 2039.2,421.8 2041.1,421.8" fill="none" stroke="#000" stroke-width="2.4" stroke-linejoin="round"/>
<polyline points="1509.2,416.4 1511.1,412.1 1513.0,407.8 1514.9,403.6 1516.8,399.3 1518.7,395.1 1520.6,390.9 1522.5,386.8 1524.4,382.6 1526.3,378.6 1528.2,374.5 1530.1,370.6 1532.0,366.7 1533.9,362.8 1535.8,359.0 1537.7,355.3 1539.6,351.7 1541.5,348.2 1543.4,344.8 1545.3,341.4 1547.2,338.2 1549.1,335.1 1551.0,332.1 1552.9,329.2 1554.8,326.5 1556.7,323.9 1558.6,321.4 1560.5,319.0 1562.4,316.9 1564.3,314.8 1566.2,312.9 1568.1,311.2 1570.0,309.7 1571.9,308.3 1573.8,307.2 1575.7,306.2 1577.6,305.4 1579.5,304.8 1581.4,304.4 1583.3,304.2 1585.2,304.2 1587.1,304.5 1589.0,305.0 1590.9,305.6 1592.8,306.5 1594.7,307.5 1596.6,308.7 1598.5,310.1 1600.4,311.6 1602.3,313.3 1604.2,315.1 1606.1,317.0 1608.0,319.1 1609.9,321.2 1611.8,323.5 1613.7,325.8 1615.6,328.2 1617.5,330.7 1619.4,333.2 1621.3,335.8 1623.2,338.4 1625.1,341.0 1627.0,343.7 1628.9,346.3 1630.8,349.0 1632.7,351.6 1634.6,354.3 1636.5,356.9 1638.4,359.4 1640.3,361.9 1642.2,364.4 1644.1,366.7 1646.0,369.0 1647.9,371.3 1649.8,373.4 1651.7,375.4 1653.6,377.3 1655.5,379.0 1657.4,380.6 1659.3,382.1 1661.2,383.4 1663.1,384.6 1665.0,385.6 1666.9,386.4 1668.8,387.1 1670.7,387.7 1672.6,388.1 1674.5,388.4 1676.4,388.6 1678.3,388.7 1680.2,388.7 1682.1,388.6 1684.0,388.4 1685.9,388.2 1687.8,387.9 1689.7,387.5 1691.6,387.0 1693.5,386.5 1695.4,386.0 1697.3,385.4 1699.2,384.9 1701.1,384.3 1703.0,383.6 1704.9,383.0 1706.8,382.4 1708.7,381.8 1710.6,381.3 1712.5,380.7 1714.4,380.2 1716.3,379.7 1718.2,379.3 1720.1,378.9 1722.0,378.6 1723.9,378.4 1725.8,378.3 1727.7,378.2 1729.6,378.2 1731.5,378.4 1733.4,378.6 1735.3,379.0 1737.2,379.5 1739.1,380.1 1741.0,380.9 1742.9,381.7 1744.8,382.7 1746.7,383.8 1748.6,385.0 1750.5,386.3 1752.4,387.7 1754.3,389.1 1756.2,390.7 1758.1,392.3 1760.0,394.0 1761.9,395.7 1763.8,397.5 1765.7,399.3 1767.6,401.2 1769.5,403.1 1771.4,405.1 1773.3,407.0 1775.2,409.0 1777.0,411.0 1778.9,413.0 1780.8,415.0 1782.7,417.0 1784.6,419.0 1786.5,420.9 1788.4,422.9 1790.3,424.8 1792.2,426.6 1794.1,428.5 1796.0,430.2 1797.9,431.9 1799.8,433.6 1801.7,435.2 1803.6,436.7 1805.5,438.1 1807.4,439.5 1809.3,440.7 1811.2,441.9 1813.1,442.9 1815.0,443.9 1816.9,444.7 1818.8,445.5 1820.7,446.1 1822.6,446.6 1824.5,447.1 1826.4,447.5 1828.3,447.7 1830.2,447.9 1832.1,448.0 1834.0,448.1 1835.9,448.1 1837.8,448.0 1839.7,447.8 1841.6,447.6 1843.5,447.3 1845.4,447.0 1847.3,446.6 1849.2,446.2 1851.1,445.7 1853.0,445.2 1854.9,444.7 1856.8,444.1 1858.7,443.5 1860.6,442.9 1862.5,442.2 1864.4,441.6 1866.3,440.9 1868.2,440.2 1870.1,439.5 1872.0,438.8 1873.9,438.2 1875.8,437.5 1877.7,436.8 1879.6,436.1 1881.5,435.5 1883.4,434.9 1885.3,434.2 1887.2,433.7 1889.1,433.1 1891.0,432.6 1892.9,432.1 1894.8,431.7 1896.7,431.2 1898.6,430.8 1900.5,430.5 1902.4,430.1 1904.3,429.8 1906.2,429.5 1908.1,429.3 1910.0,429.0 1911.9,428.8 1913.8,428.6 1915.7,428.4 1917.6,428.3 1919.5,428.2 1921.4,428.0 1923.3,427.9 1925.2,427.9 1927.1,427.8 1929.0,427.7 1930.9,427.7 1932.8,427.7 1934.7,427.7 1936.6,427.6 1938.5,427.7 1940.4,427.7 1942.3,427.7 1944.2,427.7 1946.1,427.7 1948.0,427.8 1949.9,427.8 1951.8,427.9 1953.7,427.9 1955.6,428.0 1957.5,428.0 1959.4,428.1 1961.3,428.1 1963.2,428.2 1965.1,428.2 1967.0,428.2 1968.9,428.3 1970.8,428.3 1972.7,428.3 1974.6,428.3 1976.5,428.3 1978.4,428.3 1980.3,428.4 1982.2,428.4 1984.1,428.4 1986.0,428.3 1987.9,428.3 1989.8,428.3 1991.7,428.3 1993.6,428.3 1995.5,428.3 1997.4,428.3 1999.3,428.2 2001.2,428.2 2003.1,428.2 2005.0,428.1 2006.9,428.1 2008.8,428.1 2010.7,428.0 2012.6,428.0 2014.5,427.9 2016.4,427.9 2018.3,427.8 2020.2,427.8 2022.1,427.7 2024.0,427.7 2025.9,427.6 2027.8,427.6 2029.7,427.5 2031.6,427.5 2033.5,427.4 2035.4,427.4 2037.3,427.3 2039.2,427.3 2041.1,427.2" fill="none" stroke="#000" stroke-width="2.4" stroke-linejoin="round"/>
<polyline points="1509.2,367.2 1511.1,362.6 1513.0,358.1 1514.9,353.5 1516.8,349.0 1518.7,344.5 1520.6,340.1 1522.5,335.7 1524.4,331.3 1526.3,327.0 1528.2,322.7 1530.1,318.6 1532.0,314.5 1533.9,310.4 1535.8,306.5 1537.7,302.7 1539.6,299.0 1541.5,295.4 1543.4,291.9 1545.3,288.5 1547.2,285.3 1549.1,282.2 1551.0,279.3 1552.9,276.5 1554.8,273.9 1556.7,271.5 1558.6,269.2 1560.5,267.1 1562.4,265.2 1564.3,263.5 1566.2,262.0 1568.1,260.8 1570.0,259.7 1571.9,258.9 1573.8,258.3 1575.7,257.9 1577.6,257.8 1579.5,257.9 1581.4,258.4 1583.3,259.0 1585.2,260.0 1587.1,261.2 1589.0,262.7 1590.9,264.4 1592.8,266.4 1594.7,268.6 1596.6,271.1 1598.5,273.7 1600.4,276.5 1602.3,279.4 1604.2,282.6 1606.1,285.8 1608.0,289.2 1609.9,292.7 1611.8,296.3 1613.7,299.9 1615.6,303.7 1617.5,307.4 1619.4,311.3 1621.3,315.1 1623.2,318.9 1625.1,322.8 1627.0,326.6 1628.9,330.4 1630.8,334.1 1632.7,337.8 1634.6,341.3 1636.5,344.8 1638.4,348.2 1640.3,351.5 1642.2,354.6 1644.1,357.6 1646.0,360.4 1647.9,363.0 1649.8,365.4 1651.7,367.6 1653.6,369.6 1655.5,371.4 1657.4,372.9 1659.3,374.1 1661.2,375.1 1663.1,375.7 1665.0,376.1 1666.9,376.2 1668.8,376.1 1670.7,375.7 1672.6,375.1 1674.5,374.2 1676.4,373.2 1678.3,372.0 1680.2,370.6 1682.1,369.1 1684.0,367.4 1685.9,365.6 1687.8,363.7 1689.7,361.7 1691.6,359.6 1693.5,357.4 1695.4,355.2 1697.3,352.9 1699.2,350.6 1701.1,348.3 1703.0,346.0 1704.9,343.7 1706.8,341.4 1708.7,339.2 1710.6,337.0 1712.5,334.9 1714.4,332.9 1716.3,331.0 1718.2,329.2 1720.1,327.5 1722.0,326.0 1723.9,324.6 1725.8,323.4 1727.7,322.4 1729.6,321.5 1731.5,320.9 1733.4,320.5 1735.3,320.4 1737.2,320.5 1739.1,320.8 1741.0,321.5 1742.9,322.3 1744.8,323.4 1746.7,324.8 1748.6,326.3 1750.5,328.1 1752.4,330.0 1754.3,332.2 1756.2,334.5 1758.1,336.9 1760.0,339.6 1761.9,342.3 1763.8,345.2 1765.7,348.3 1767.6,351.4 1769.5,354.6 1771.4,358.0 1773.3,361.4 1775.2,364.9 1777.0,368.4 1778.9,372.0 1780.8,375.6 1782.7,379.3 1784.6,382.9 1786.5,386.6 1788.4,390.3 1790.3,394.0 1792.2,397.6 1794.1,401.2 1796.0,404.8 1797.9,408.3 1799.8,411.7 1801.7,415.1 1803.6,418.4 1805.5,421.6 1807.4,424.6 1809.3,427.6 1811.2,430.4 1813.1,433.1 1815.0,435.7 1816.9,438.1 1818.8,440.3 1820.7,442.4 1822.6,444.4 1824.5,446.3 1826.4,448.0 1828.3,449.6 1830.2,451.1 1832.1,452.4 1834.0,453.7 1835.9,454.8 1837.8,455.8 1839.7,456.8 1841.6,457.6 1843.5,458.3 1845.4,458.9 1847.3,459.4 1849.2,459.9 1851.1,460.3 1853.0,460.5 1854.9,460.7 1856.8,460.9 1858.7,460.9 1860.6,460.9 1862.5,460.8 1864.4,460.7 1866.3,460.5 1868.2,460.2 1870.1,459.9 1872.0,459.6 1873.9,459.2 1875.8,458.7 1877.7,458.2 1879.6,457.7 1881.5,457.2 1883.4,456.6 1885.3,456.0 1887.2,455.4 1889.1,454.8 1891.0,454.1 1892.9,453.4 1894.8,452.8 1896.7,452.1 1898.6,451.4 1900.5,450.7 1902.4,450.0 1904.3,449.2 1906.2,448.5 1908.1,447.8 1910.0,447.1 1911.9,446.3 1913.8,445.6 1915.7,444.9 1917.6,444.2 1919.5,443.4 1921.4,442.7 1923.3,442.0 1925.2,441.3 1927.1,440.6 1929.0,439.9 1930.9,439.2 1932.8,438.6 1934.7,437.9 1936.6,437.3 1938.5,436.6 1940.4,436.0 1942.3,435.4 1944.2,434.9 1946.1,434.3 1948.0,433.8 1949.9,433.3 1951.8,432.8 1953.7,432.3 1955.6,431.9 1957.5,431.5 1959.4,431.1 1961.3,430.8 1963.2,430.4 1965.1,430.2 1967.0,429.9 1968.9,429.7 1970.8,429.5 1972.7,429.3 1974.6,429.2 1976.5,429.1 1978.4,429.0 1980.3,429.0 1982.2,429.0 1984.1,429.0 1986.0,429.0 1987.9,429.1 1989.8,429.2 1991.7,429.3 1993.6,429.4 1995.5,429.5 1997.4,429.7 1999.3,429.9 2001.2,430.1 2003.1,430.3 2005.0,430.5 2006.9,430.8 2008.8,431.0 2010.7,431.3 2012.6,431.6 2014.5,431.9 2016.4,432.2 2018.3,432.6 2020.2,432.9 2022.1,433.3 2024.0,433.6 2025.9,434.0 2027.8,434.3 2029.7,434.7 2031.6,435.1 2033.5,435.5 2035.4,435.9 2037.3,436.3 2039.2,436.7 2041.1,437.0" fill="none" stroke="#000" stroke-width="2.4" stroke-linejoin="round"/>
<polyline points="1509.2,352.4 1511.1,353.8 1513.0,355.1 1514.9,356.4 1516.8,357.7 1518.7,359.1 1520.6,360.4 1522.5,361.7 1524.4,363.0 1526.3,364.2 1528.2,365.5 1530.1,366.7 1532.0,368.0 1533.9,369.2 1535.8,370.4 1537.7,371.6 1539.6,372.8 1541.5,373.9 1543.4,375.0 1545.3,376.1 1547.2,377.2 1549.1,378.2 1551.0,379.2 1552.9,380.2 1554.8,381.1 1556.7,382.0 1558.6,382.9 1560.5,383.8 1562.4,384.6 1564.3,385.3 1566.2,386.1 1568.1,386.7 1570.0,387.4 1571.9,388.0 1573.8,388.5 1575.7,389.0 1577.6,389.5 1579.5,389.9 1581.4,390.3 1583.3,390.6 1585.2,390.8 1587.1,391.0 1589.0,391.1 1590.9,391.2 1592.8,391.3 1594.7,391.3 1596.6,391.2 1598.5,391.1 1600.4,390.9 1602.3,390.7 1604.2,390.5 1606.1,390.2 1608.0,389.8 1609.9,389.5 1611.8,389.1 1613.7,388.6 1615.6,388.1 1617.5,387.6 1619.4,387.1 1621.3,386.5 1623.2,385.9 1625.1,385.2 1627.0,384.6 1628.9,383.9 1630.8,383.2 1632.7,382.4 1634.6,381.6 1636.5,380.8 1638.4,380.0 1640.3,379.2 1642.2,378.4 1644.1,377.5 1646.0,376.6 1647.9,375.7 1649.8,374.8 1651.7,373.9 1653.6,373.0 1655.5,372.0 1657.4,371.1 1659.3,370.1 1661.2,369.2 1663.1,368.2 1665.0,367.2 1666.9,366.3 1668.8,365.3 1670.7,364.4 1672.6,363.5 1674.5,362.5 1676.4,361.6 1678.3,360.7 1680.2,359.9 1682.1,359.0 1684.0,358.2 1685.9,357.4 1687.8,356.6 1689.7,355.9 1691.6,355.2 1693.5,354.6 1695.4,354.0 1697.3,353.4 1699.2,352.9 1701.1,352.4 1703.0,352.0 1704.9,351.7 1706.8,351.4 1708.7,351.2 1710.6,351.0 1712.5,350.9 1714.4,350.9 1716.3,350.9 1718.2,351.0 1720.1,351.2 1722.0,351.5 1723.9,351.8 1725.8,352.3 1727.7,352.8 1729.6,353.4 1731.5,354.1 1733.4,354.9 1735.3,355.9 1737.2,356.9 1739.1,358.0 1741.0,359.2 1742.9,360.5 1744.8,361.9 1746.7,363.4 1748.6,365.0 1750.5,366.6 1752.4,368.3 1754.3,370.1 1756.2,371.9 1758.1,373.8 1760.0,375.8 1761.9,377.7 1763.8,379.8 1765.7,381.8 1767.6,383.9 1769.5,386.0 1771.4,388.2 1773.3,390.3 1775.2,392.5 1777.0,394.6 1778.9,396.8 1780.8,399.0 1782.7,401.1 1784.6,403.3 1786.5,405.4 1788.4,407.5 1790.3,409.5 1792.2,411.6 1794.1,413.5 1796.0,415.5 1797.9,417.4 1799.8,419.2 1801.7,421.0 1803.6,422.7 1805.5,424.4 1807.4,425.9 1809.3,427.4 1811.2,428.8 1813.1,430.2 1815.0,431.4 1816.9,432.5 1818.8,433.6 1820.7,434.5 1822.6,435.4 1824.5,436.2 1826.4,436.9 1828.3,437.5 1830.2,438.0 1832.1,438.5 1834.0,438.9 1835.9,439.2 1837.8,439.5 1839.7,439.7 1841.6,439.8 1843.5,439.9 1845.4,439.9 1847.3,439.8 1849.2,439.7 1851.1,439.6 1853.0,439.3 1854.9,439.1 1856.8,438.8 1858.7,438.4 1860.6,438.0 1862.5,437.6 1864.4,437.1 1866.3,436.6 1868.2,436.0 1870.1,435.4 1872.0,434.8 1873.9,434.1 1875.8,433.5 1877.7,432.8 1879.6,432.1 1881.5,431.3 1883.4,430.6 1885.3,429.8 1887.2,429.0 1889.1,428.2 1891.0,427.4 1892.9,426.6 1894.8,425.7 1896.7,424.9 1898.6,424.1 1900.5,423.2 1902.4,422.4 1904.3,421.6 1906.2,420.7 1908.1,419.9 1910.0,419.1 1911.9,418.3 1913.8,417.5 1915.7,416.7 1917.6,415.9 1919.5,415.1 1921.4,414.3 1923.3,413.6 1925.2,412.9 1927.1,412.2 1929.0,411.5 1930.9,410.8 1932.8,410.1 1934.7,409.5 1936.6,408.9 1938.5,408.4 1940.4,407.8 1942.3,407.3 1944.2,406.8 1946.1,406.4 1948.0,406.0 1949.9,405.6 1951.8,405.3 1953.7,405.0 1955.6,404.7 1957.5,404.5 1959.4,404.3 1961.3,404.2 1963.2,404.1 1965.1,404.1 1967.0,404.1 1968.9,404.2 1970.8,404.3 1972.7,404.4 1974.6,404.6 1976.5,404.9 1978.4,405.2 1980.3,405.5 1982.2,405.9 1984.1,406.3 1986.0,406.7 1987.9,407.2 1989.8,407.7 1991.7,408.3 1993.6,408.8 1995.5,409.5 1997.4,410.1 1999.3,410.8 2001.2,411.5 2003.1,412.2 2005.0,412.9 2006.9,413.7 2008.8,414.5 2010.7,415.3 2012.6,416.1 2014.5,417.0 2016.4,417.9 2018.3,418.7 2020.2,419.6 2022.1,420.6 2024.0,421.5 2025.9,422.4 2027.8,423.4 2029.7,424.3 2031.6,425.3 2033.5,426.2 2035.4,427.2 2037.3,428.2 2039.2,429.2 2041.1,430.2" fill="none" stroke="#000" stroke-width="2.4" stroke-linejoin="round"/>
<polyline points="1509.2,311.1 1511.1,311.5 1513.0,311.8 1514.9,312.1 1516.8,312.5 1518.7,312.8 1520.6,313.1 1522.5,313.5 1524.4,313.8 1526.3,314.1 1528.2,314.5 1530.1,314.8 1532.0,315.2 1533.9,315.6 1535.8,315.9 1537.7,316.3 1539.6,316.6 1541.5,317.0 1543.4,317.4 1545.3,317.8 1547.2,318.2 1549.1,318.6 1551.0,319.0 1552.9,319.4 1554.8,319.8 1556.7,320.3 1558.6,320.7 1560.5,321.1 1562.4,321.6 1564.3,322.1 1566.2,322.5 1568.1,323.0 1570.0,323.5 1571.9,324.0 1573.8,324.5 1575.7,325.0 1577.6,325.6 1579.5,326.1 1581.4,326.7 1583.3,327.3 1585.2,327.9 1587.1,328.4 1589.0,329.1 1590.9,329.7 1592.8,330.3 1594.7,330.9 1596.6,331.6 1598.5,332.2 1600.4,332.8 1602.3,333.5 1604.2,334.1 1606.1,334.7 1608.0,335.3 1609.9,335.9 1611.8,336.5 1613.7,337.0 1615.6,337.6 1617.5,338.1 1619.4,338.6 1621.3,339.1 1623.2,339.5 1625.1,339.9 1627.0,340.3 1628.9,340.7 1630.8,341.0 1632.7,341.3 1634.6,341.5 1636.5,341.7 1638.4,341.9 1640.3,342.0 1642.2,342.1 1644.1,342.1 1646.0,342.1 1647.9,342.0 1649.8,341.8 1651.7,341.6 1653.6,341.4 1655.5,341.0 1657.4,340.6 1659.3,340.2 1661.2,339.7 1663.1,339.1 1665.0,338.4 1666.9,337.7 1668.8,336.9 1670.7,336.1 1672.6,335.2 1674.5,334.2 1676.4,333.3 1678.3,332.2 1680.2,331.2 1682.1,330.1 1684.0,329.0 1685.9,327.9 1687.8,326.7 1689.7,325.6 1691.6,324.4 1693.5,323.2 1695.4,322.1 1697.3,320.9 1699.2,319.7 1701.1,318.5 1703.0,317.4 1704.9,316.3 1706.8,315.2 1708.7,314.1 1710.6,313.0 1712.5,312.0 1714.4,311.0 1716.3,310.1 1718.2,309.2 1720.1,308.4 1722.0,307.6 1723.9,306.9 1725.8,306.2 1727.7,305.6 1729.6,305.1 1731.5,304.6 1733.4,304.2 1735.3,304.0 1737.2,303.7 1739.1,303.6 1741.0,303.6 1742.9,303.7 1744.8,303.8 1746.7,304.0 1748.6,304.3 1750.5,304.7 1752.4,305.1 1754.3,305.6 1756.2,306.1 1758.1,306.8 1760.0,307.4 1761.9,308.2 1763.8,308.9 1765.7,309.7 1767.6,310.6 1769.5,311.5 1771.4,312.4 1773.3,313.4 1775.2,314.4 1777.0,315.4 1778.9,316.5 1780.8,317.6 1782.7,318.6 1784.6,319.7 1786.5,320.9 1788.4,322.0 1790.3,323.1 1792.2,324.2 1794.1,325.3 1796.0,326.5 1797.9,327.6 1799.8,328.7 1801.7,329.7 1803.6,330.8 1805.5,331.8 1807.4,332.9 1809.3,333.8 1811.2,334.8 1813.1,335.7 1815.0,336.6 1816.9,337.5 1818.8,338.3 1820.7,339.0 1822.6,339.8 1824.5,340.5 1826.4,341.2 1828.3,341.8 1830.2,342.4 1832.1,343.0 1834.0,343.5 1835.9,344.1 1837.8,344.5 1839.7,345.0 1841.6,345.4 1843.5,345.8 1845.4,346.2 1847.3,346.5 1849.2,346.9 1851.1,347.1 1853.0,347.4 1854.9,347.7 1856.8,347.9 1858.7,348.1 1860.6,348.2 1862.5,348.4 1864.4,348.5 1866.3,348.6 1868.2,348.7 1870.1,348.8 1872.0,348.8 1873.9,348.9 1875.8,348.9 1877.7,348.9 1879.6,348.8 1881.5,348.8 1883.4,348.8 1885.3,348.7 1887.2,348.6 1889.1,348.5 1891.0,348.4 1892.9,348.3 1894.8,348.1 1896.7,348.0 1898.6,347.8 1900.5,347.7 1902.4,347.5 1904.3,347.3 1906.2,347.1 1908.1,346.9 1910.0,346.6 1911.9,346.4 1913.8,346.1 1915.7,345.8 1917.6,345.5 1919.5,345.2 1921.4,344.9 1923.3,344.6 1925.2,344.3 1927.1,343.9 1929.0,343.5 1930.9,343.2 1932.8,342.8 1934.7,342.4 1936.6,342.0 1938.5,341.5 1940.4,341.1 1942.3,340.6 1944.2,340.2 1946.1,339.7 1948.0,339.2 1949.9,338.7 1951.8,338.2 1953.7,337.7 1955.6,337.1 1957.5,336.6 1959.4,336.0 1961.3,335.4 1963.2,334.8 1965.1,334.2 1967.0,333.6 1968.9,333.0 1970.8,332.4 1972.7,331.7 1974.6,331.1 1976.5,330.4 1978.4,329.7 1980.3,329.0 1982.2,328.3 1984.1,327.6 1986.0,326.9 1987.9,326.1 1989.8,325.4 1991.7,324.6 1993.6,323.9 1995.5,323.1 1997.4,322.4 1999.3,321.6 2001.2,320.8 2003.1,320.0 2005.0,319.2 2006.9,318.4 2008.8,317.6 2010.7,316.8 2012.6,315.9 2014.5,315.1 2016.4,314.3 2018.3,313.5 2020.2,312.6 2022.1,311.8 2024.0,310.9 2025.9,310.1 2027.8,309.2 2029.7,308.4 2031.6,307.5 2033.5,306.7 2035.4,305.8 2037.3,305.0 2039.2,304.1 2041.1,303.3" fill="none" stroke="#000" stroke-width="2.4" stroke-linejoin="round"/>
<polyline points="1509.2,311.1 1511.1,312.2 1513.0,313.2 1514.9,314.2 1516.8,315.2 1518.7,316.3 1520.6,317.3 1522.5,318.3 1524.4,319.4 1526.3,320.4 1528.2,321.4 1530.1,322.5 1532.0,323.5 1533.9,324.6 1535.8,325.6 1537.7,326.7 1539.6,327.7 1541.5,328.8 1543.4,329.8 1545.3,330.9 1547.2,332.0 1549.1,333.0 1551.0,334.1 1552.9,335.2 1554.8,336.3 1556.7,337.4 1558.6,338.5 1560.5,339.6 1562.4,340.7 1564.3,341.8 1566.2,342.9 1568.1,344.0 1570.0,345.1 1571.9,346.3 1573.8,347.4 1575.7,348.6 1577.6,349.7 1579.5,350.9 1581.4,352.1 1583.3,353.2 1585.2,354.4 1587.1,355.6 1589.0,356.8 1590.9,358.0 1592.8,359.2 1594.7,360.4 1596.6,361.5 1598.5,362.7 1600.4,363.8 1602.3,364.9 1604.2,366.0 1606.1,367.0 1608.0,368.0 1609.9,368.9 1611.8,369.8 1613.7,370.6 1615.6,371.4 1617.5,372.1 1619.4,372.7 1621.3,373.3 1623.2,373.8 1625.1,374.2 1627.0,374.5 1628.9,374.7 1630.8,374.9 1632.7,374.9 1634.6,374.8 1636.5,374.7 1638.4,374.4 1640.3,373.9 1642.2,373.4 1644.1,372.7 1646.0,372.0 1647.9,371.0 1649.8,369.9 1651.7,368.7 1653.6,367.4 1655.5,365.8 1657.4,364.2 1659.3,362.3 1661.2,360.3 1663.1,358.1 1665.0,355.8 1666.9,353.3 1668.8,350.7 1670.7,347.9 1672.6,345.1 1674.5,342.1 1676.4,339.1 1678.3,335.9 1680.2,332.7 1682.1,329.5 1684.0,326.2 1685.9,322.9 1687.8,319.5 1689.7,316.2 1691.6,312.8 1693.5,309.5 1695.4,306.2 1697.3,302.9 1699.2,299.7 1701.1,296.6 1703.0,293.5 1704.9,290.6 1706.8,287.7 1708.7,284.9 1710.6,282.3 1712.5,279.8 1714.4,277.4 1716.3,275.2 1718.2,273.2 1720.1,271.3 1722.0,269.7 1723.9,268.2 1725.8,267.0 1727.7,266.0 1729.6,265.3 1731.5,264.8 1733.4,264.5 1735.3,264.6 1737.2,264.9 1739.1,265.5 1741.0,266.4 1742.9,267.6 1744.8,269.1 1746.7,270.8 1748.6,272.7 1750.5,274.9 1752.4,277.3 1754.3,279.9 1756.2,282.7 1758.1,285.7 1760.0,288.8 1761.9,292.1 1763.8,295.5 1765.7,299.1 1767.6,302.8 1769.5,306.6 1771.4,310.4 1773.3,314.4 1775.2,318.4 1777.0,322.5 1778.9,326.7 1780.8,330.8 1782.7,335.0 1784.6,339.3 1786.5,343.5 1788.4,347.6 1790.3,351.8 1792.2,355.9 1794.1,360.0 1796.0,364.0 1797.9,367.9 1799.8,371.8 1801.7,375.5 1803.6,379.2 1805.5,382.7 1807.4,386.1 1809.3,389.3 1811.2,392.3 1813.1,395.2 1815.0,397.9 1816.9,400.5 1818.8,402.8 1820.7,405.0 1822.6,407.0 1824.5,408.9 1826.4,410.6 1828.3,412.1 1830.2,413.5 1832.1,414.7 1834.0,415.8 1835.9,416.8 1837.8,417.6 1839.7,418.3 1841.6,418.8 1843.5,419.3 1845.4,419.6 1847.3,419.8 1849.2,419.9 1851.1,419.9 1853.0,419.8 1854.9,419.5 1856.8,419.2 1858.7,418.8 1860.6,418.3 1862.5,417.8 1864.4,417.1 1866.3,416.4 1868.2,415.6 1870.1,414.8 1872.0,413.9 1873.9,412.9 1875.8,411.9 1877.7,410.8 1879.6,409.7 1881.5,408.5 1883.4,407.4 1885.3,406.1 1887.2,404.9 1889.1,403.6 1891.0,402.3 1892.9,401.0 1894.8,399.7 1896.7,398.3 1898.6,397.0 1900.5,395.6 1902.4,394.2 1904.3,392.8 1906.2,391.4 1908.1,390.0 1910.0,388.6 1911.9,387.2 1913.8,385.8 1915.7,384.4 1917.6,382.9 1919.5,381.5 1921.4,380.1 1923.3,378.7 1925.2,377.4 1927.1,376.0 1929.0,374.6 1930.9,373.3 1932.8,371.9 1934.7,370.6 1936.6,369.3 1938.5,368.0 1940.4,366.8 1942.3,365.5 1944.2,364.3 1946.1,363.1 1948.0,361.9 1949.9,360.8 1951.8,359.7 1953.7,358.6 1955.6,357.6 1957.5,356.6 1959.4,355.6 1961.3,354.7 1963.2,353.8 1965.1,352.9 1967.0,352.1 1968.9,351.4 1970.8,350.6 1972.7,350.0 1974.6,349.3 1976.5,348.7 1978.4,348.1 1980.3,347.6 1982.2,347.1 1984.1,346.6 1986.0,346.2 1987.9,345.8 1989.8,345.4 1991.7,345.0 1993.6,344.7 1995.5,344.4 1997.4,344.2 1999.3,343.9 2001.2,343.7 2003.1,343.5 2005.0,343.3 2006.9,343.2 2008.8,343.0 2010.7,342.9 2012.6,342.8 2014.5,342.7 2016.4,342.6 2018.3,342.6 2020.2,342.5 2022.1,342.5 2024.0,342.5 2025.9,342.5 2027.8,342.5 2029.7,342.5 2031.6,342.5 2033.5,342.5 2035.4,342.5 2037.3,342.6 2039.2,342.6 2041.1,342.6" fill="none" stroke="#000" stroke-width="2.4" stroke-linejoin="round"/>
<rect x="1503.2" y="417.3" width="12.0" height="12.0" fill="#000" stroke="#000" stroke-width="0.6"/>
<rect x="1579.2" y="422.2" width="12.0" height="12.0" fill="#000" stroke="#000" stroke-width="0.6"/>
<rect x="1655.2" y="421.2" width="12.0" height="12.0" fill="#000" stroke="#000" stroke-width="0.6"/>
<rect x="1731.2" y="412.4" width="12.0" height="12.0" fill="#000" stroke="#000" stroke-width="0.6"/>
<rect x="1807.1" y="422.2" width="12.0" height="12.0" fill="#000" stroke="#000" stroke-width="0.6"/>
<rect x="1883.1" y="419.7" width="12.0" height="12.0" fill="#000" stroke="#000" stroke-width="0.6"/>
<rect x="1959.1" y="422.2" width="12.0" height="12.0" fill="#000" stroke="#000" stroke-width="0.6"/>
<rect x="2035.1" y="422.2" width="12.0" height="12.0" fill="#000" stroke="#000" stroke-width="0.6"/>
<circle cx="1509.2" cy="414.4" r="6.4" fill="#000" stroke="#000" stroke-width="0.6"/>
<circle cx="1585.2" cy="428.2" r="6.4" fill="#000" stroke="#000" stroke-width="0.6"/>
<circle cx="1661.2" cy="403.1" r="6.4" fill="#000" stroke="#000" stroke-width="0.6"/>
<circle cx="1737.2" cy="394.7" r="6.4" fill="#000" stroke="#000" stroke-width="0.6"/>
<circle cx="1813.1" cy="423.8" r="6.4" fill="#000" stroke="#000" stroke-width="0.6"/>
<circle cx="1889.1" cy="427.2" r="6.4" fill="#000" stroke="#000" stroke-width="0.6"/>
<circle cx="1965.1" cy="421.8" r="6.4" fill="#000" stroke="#000" stroke-width="0.6"/>
<circle cx="2041.1" cy="421.8" r="6.4" fill="#000" stroke="#000" stroke-width="0.6"/>
<polygon points="1509.2,406.3 1517.4,421.5 1501.0,421.5" fill="#000" stroke="#000" stroke-width="0.6"/>
<polygon points="1585.2,294.1 1593.4,309.3 1577.0,309.3" fill="#000" stroke="#000" stroke-width="0.6"/>
<polygon points="1661.2,373.3 1669.4,388.5 1653.0,388.5" fill="#000" stroke="#000" stroke-width="0.6"/>
<polygon points="1737.2,369.4 1745.4,384.6 1729.0,384.6" fill="#000" stroke="#000" stroke-width="0.6"/>
<polygon points="1813.1,432.8 1821.3,448.0 1804.9,448.0" fill="#000" stroke="#000" stroke-width="0.6"/>
<polygon points="1889.1,423.0 1897.3,438.2 1880.9,438.2" fill="#000" stroke="#000" stroke-width="0.6"/>
<polygon points="1965.1,418.1 1973.3,433.3 1956.9,433.3" fill="#000" stroke="#000" stroke-width="0.6"/>
<polygon points="2041.1,417.1 2049.3,432.3 2032.9,432.3" fill="#000" stroke="#000" stroke-width="0.6"/>
<polygon points="1509.2,377.3 1517.4,362.1 1501.0,362.1" fill="#000" stroke="#000" stroke-width="0.6"/>
<polygon points="1585.2,270.1 1593.4,254.9 1577.0,254.9" fill="#000" stroke="#000" stroke-width="0.6"/>
<polygon points="1661.2,385.2 1669.4,370.0 1653.0,370.0" fill="#000" stroke="#000" stroke-width="0.6"/>
<polygon points="1737.2,330.6 1745.4,315.4 1729.0,315.4" fill="#000" stroke="#000" stroke-width="0.6"/>
<polygon points="1813.1,443.2 1821.3,428.0 1804.9,428.0" fill="#000" stroke="#000" stroke-width="0.6"/>
<polygon points="1889.1,464.9 1897.3,449.7 1880.9,449.7" fill="#000" stroke="#000" stroke-width="0.6"/>
<polygon points="1965.1,440.3 1973.3,425.1 1956.9,425.1" fill="#000" stroke="#000" stroke-width="0.6"/>
<polygon points="2041.1,447.2 2049.3,432.0 2032.9,432.0" fill="#000" stroke="#000" stroke-width="0.6"/>
<polygon points="1509.2,345.0 1516.6,352.4 1509.2,359.8 1501.8,352.4" fill="#000" stroke="#000" stroke-width="0.6"/>
<polygon points="1585.2,383.4 1592.6,390.8 1585.2,398.2 1577.8,390.8" fill="#000" stroke="#000" stroke-width="0.6"/>
<polygon points="1661.2,361.8 1668.6,369.2 1661.2,376.6 1653.8,369.2" fill="#000" stroke="#000" stroke-width="0.6"/>
<polygon points="1737.2,349.5 1744.6,356.9 1737.2,364.3 1729.8,356.9" fill="#000" stroke="#000" stroke-width="0.6"/>
<polygon points="1813.1,422.8 1820.5,430.2 1813.1,437.6 1805.7,430.2" fill="#000" stroke="#000" stroke-width="0.6"/>
<polygon points="1889.1,420.8 1896.5,428.2 1889.1,435.6 1881.7,428.2" fill="#000" stroke="#000" stroke-width="0.6"/>
<polygon points="1965.1,396.7 1972.5,404.1 1965.1,411.5 1957.7,404.1" fill="#000" stroke="#000" stroke-width="0.6"/>
<polygon points="2041.1,422.8 2048.5,430.2 2041.1,437.6 2033.7,430.2" fill="#000" stroke="#000" stroke-width="0.6"/>
<polygon points="1499.1,311.1 1514.3,302.9 1514.3,319.3" fill="#000" stroke="#000" stroke-width="0.6"/>
<polygon points="1575.1,327.9 1590.3,319.7 1590.3,336.1" fill="#000" stroke="#000" stroke-width="0.6"/>
<polygon points="1651.0,339.7 1666.2,331.5 1666.2,347.9" fill="#000" stroke="#000" stroke-width="0.6"/>
<polygon points="1727.0,303.7 1742.2,295.5 1742.2,311.9" fill="#000" stroke="#000" stroke-width="0.6"/>
<polygon points="1803.0,335.7 1818.2,327.5 1818.2,343.9" fill="#000" stroke="#000" stroke-width="0.6"/>
<polygon points="1879.0,348.5 1894.2,340.3 1894.2,356.7" fill="#000" stroke="#000" stroke-width="0.6"/>
<polygon points="1955.0,334.2 1970.2,326.0 1970.2,342.4" fill="#000" stroke="#000" stroke-width="0.6"/>
<polygon points="2031.0,303.3 2046.2,295.1 2046.2,311.5" fill="#000" stroke="#000" stroke-width="0.6"/>
<polygon points="1519.3,311.1 1504.1,302.9 1504.1,319.3" fill="#000" stroke="#000" stroke-width="0.6"/>
<polygon points="1595.3,354.4 1580.1,346.2 1580.1,362.6" fill="#000" stroke="#000" stroke-width="0.6"/>
<polygon points="1671.3,360.3 1656.1,352.1 1656.1,368.5" fill="#000" stroke="#000" stroke-width="0.6"/>
<polygon points="1747.3,264.9 1732.1,256.7 1732.1,273.1" fill="#000" stroke="#000" stroke-width="0.6"/>
<polygon points="1823.3,395.2 1808.1,387.0 1808.1,403.4" fill="#000" stroke="#000" stroke-width="0.6"/>
<polygon points="1899.3,403.6 1884.1,395.4 1884.1,411.8" fill="#000" stroke="#000" stroke-width="0.6"/>
<polygon points="1975.2,352.9 1960.0,344.7 1960.0,361.1" fill="#000" stroke="#000" stroke-width="0.6"/>
<polygon points="2051.2,342.6 2036.0,334.4 2036.0,350.8" fill="#000" stroke="#000" stroke-width="0.6"/>
<line x1="1536.0" y1="58.4" x2="1584.3" y2="58.4" stroke="#000" stroke-width="2.4" />
<rect x="1554.0" y="52.4" width="12.0" height="12.0" fill="#000" stroke="#000" stroke-width="0.6"/>
<text id="c_lg0" transform="translate(1588.20,67.20) scale(1,0.94)" font-size="30" stroke="#000" stroke-width="0.15"><tspan font-style="italic">t</tspan><tspan font-family="Liberation Sans,sans-serif" font-style="italic" font-size="28" stroke-width="0.5">/</tspan><tspan font-style="italic" dx="0.5">D</tspan><tspan stroke-width="0.8" font-size="30.5">=0</tspan></text>
<line x1="1697.5" y1="58.4" x2="1745.8" y2="58.4" stroke="#000" stroke-width="2.4" />
<circle cx="1721.5" cy="58.4" r="6.4" fill="#000" stroke="#000" stroke-width="0.6"/>
<text id="c_lg1" transform="translate(1749.20,66.20) scale(1,0.94)" font-size="30" stroke="#000" stroke-width="0.15"><tspan font-style="italic">t</tspan><tspan font-family="Liberation Sans,sans-serif" font-style="italic" font-size="28" stroke-width="0.5">/</tspan><tspan font-style="italic" dx="0.5">D</tspan><tspan stroke-width="0.8" font-size="30.5">=0.125</tspan></text>
<line x1="1896.3" y1="58.4" x2="1944.6" y2="58.4" stroke="#000" stroke-width="2.4" />
<polygon points="1920.3,48.3 1928.5,63.5 1912.1,63.5" fill="#000" stroke="#000" stroke-width="0.6"/>
<text id="c_lg2" transform="translate(1948.00,66.20) scale(1,0.94)" font-size="30" stroke="#000" stroke-width="0.15"><tspan font-style="italic">t</tspan><tspan font-family="Liberation Sans,sans-serif" font-style="italic" font-size="28" stroke-width="0.5">/</tspan><tspan font-style="italic" dx="0.5">D</tspan><tspan stroke-width="0.8" font-size="30.5">=0.3125</tspan></text>
<line x1="1536.0" y1="86.0" x2="1584.3" y2="86.0" stroke="#000" stroke-width="2.4" />
<polygon points="1560.0,96.1 1568.2,80.9 1551.8,80.9" fill="#000" stroke="#000" stroke-width="0.6"/>
<text id="c_lg3" transform="translate(1588.20,93.80) scale(1,0.94)" font-size="30" stroke="#000" stroke-width="0.15"><tspan font-style="italic">t</tspan><tspan font-family="Liberation Sans,sans-serif" font-style="italic" font-size="28" stroke-width="0.5">/</tspan><tspan font-style="italic" dx="0.5">D</tspan><tspan stroke-width="0.8" font-size="30.5">=0.5</tspan></text>
<line x1="1697.5" y1="86.0" x2="1745.8" y2="86.0" stroke="#000" stroke-width="2.4" />
<polygon points="1721.5,78.6 1728.9,86.0 1721.5,93.4 1714.1,86.0" fill="#000" stroke="#000" stroke-width="0.6"/>
<text id="c_lg4" transform="translate(1749.20,93.80) scale(1,0.94)" font-size="30" stroke="#000" stroke-width="0.15"><tspan font-style="italic">t</tspan><tspan font-family="Liberation Sans,sans-serif" font-style="italic" font-size="28" stroke-width="0.5">/</tspan><tspan font-style="italic" dx="0.5">D</tspan><tspan stroke-width="0.8" font-size="30.5">=0.687</tspan></text>
<line x1="1896.3" y1="86.0" x2="1944.6" y2="86.0" stroke="#000" stroke-width="2.4" />
<polygon points="1910.2,86.0 1925.4,77.8 1925.4,94.2" fill="#000" stroke="#000" stroke-width="0.6"/>
<text id="c_lg5" transform="translate(1948.00,93.80) scale(1,0.94)" font-size="30" stroke="#000" stroke-width="0.15"><tspan font-style="italic">t</tspan><tspan font-family="Liberation Sans,sans-serif" font-style="italic" font-size="28" stroke-width="0.5">/</tspan><tspan font-style="italic" dx="0.5">D</tspan><tspan stroke-width="0.8" font-size="30.5">=0.875</tspan></text>
<line x1="1536.0" y1="115.6" x2="1584.3" y2="115.6" stroke="#000" stroke-width="2.4" />
<polygon points="1570.1,115.6 1554.9,107.4 1554.9,123.8" fill="#000" stroke="#000" stroke-width="0.6"/>
<text id="c_lg6" transform="translate(1588.20,123.40) scale(1,0.94)" font-size="30" stroke="#000" stroke-width="0.15"><tspan font-style="italic">t</tspan><tspan font-family="Liberation Sans,sans-serif" font-style="italic" font-size="28" stroke-width="0.5">/</tspan><tspan font-style="italic" dx="0.5">D</tspan><tspan stroke-width="0.8" font-size="30.5">=1</tspan></text>
</svg>
</body></html>
